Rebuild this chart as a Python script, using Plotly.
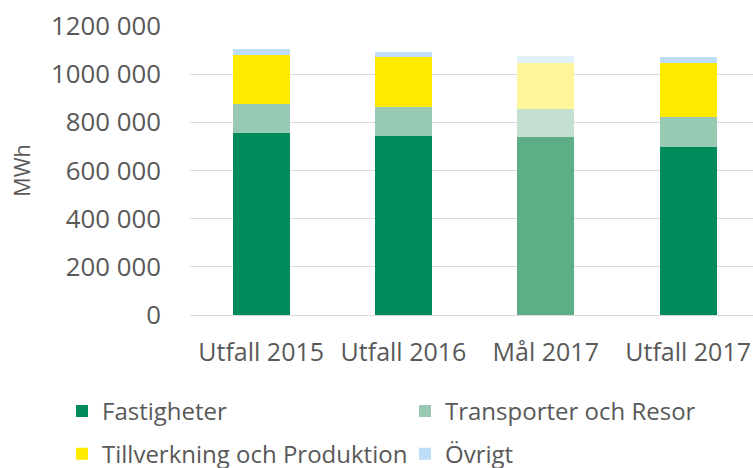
import plotly.graph_objects as go

categories = ["Utfall 2015", "Utfall 2016", "Mål 2017", "Utfall 2017"]
fastigheter = [756000, 742000, 738000, 699000]
transporter = [120000, 120000, 117000, 123000]
tillverkning = [203000, 208000, 193000, 223000]
ovrigt = [25000, 24000, 26000, 25000]

ytick_vals = [0, 200000, 400000, 600000, 800000, 1000000, 1200000]
ytick_text = ["0", "200 000", "400 000", "600 000", "800 000", "1000 000", "1200 000"]

# normal colours, and lighter tints for the target bar (Mål 2017)
col_f = ["#008C5A", "#008C5A", "#5DAE87", "#008C5A"]
col_t = ["#98CAB3", "#98CAB3", "#C2DFD0", "#98CAB3"]
col_p = ["#FFEB00", "#FFEB00", "#FFF59B", "#FFEB00"]
col_o = ["#BDDDFA", "#BDDDFA", "#E1F0FD", "#BDDDFA"]

FONT = "Open Sans"
TXT = "#595959"

W, H = 753, 468
L, R, T, B = 190, 0, 25.7, 152.5
PW, PH = W - L - R, H - T - B


def px_x(px):
    return (px - L) / PW


def px_y(py):
    return (H - B - py) / PH


fig = go.Figure()
fig.add_trace(go.Bar(x=categories, y=fastigheter, name="Fastigheter",
                     marker=dict(color=col_f, line=dict(width=0)), legend="legend"))
fig.add_trace(go.Bar(x=categories, y=transporter, name="Transporter och Resor",
                     marker=dict(color=col_t, line=dict(width=0)), legend="legend"))
fig.add_trace(go.Bar(x=categories, y=tillverkning, name="Tillverkning och Produktion",
                     marker=dict(color=col_p, line=dict(width=0)), legend="legend2"))
fig.add_trace(go.Bar(x=categories, y=ovrigt, name="Övrigt",
                     marker=dict(color=col_o, line=dict(width=0)), legend="legend2"))

leg_common = dict(orientation="h", xref="paper", yref="paper",
                  xanchor="left", yanchor="top", entrywidth=298, entrywidthmode="pixels",
                  font=dict(family=FONT, size=24, color=TXT), bgcolor="rgba(0,0,0,0)",
                  traceorder="normal", itemclick=False, itemdoubleclick=False)

fig.update_layout(
    barmode="stack",
    bargap=0.6,
    width=W, height=H,
    margin=dict(l=L, r=R, t=T, b=B, autoexpand=False),
    paper_bgcolor="white", plot_bgcolor="white",
    font=dict(family=FONT, color=TXT),
    legend=dict(x=px_x(62), y=px_y(389.5), **leg_common),
    legend2=dict(x=px_x(62), y=px_y(432.5), **leg_common),
    xaxis=dict(range=[-0.5, 3.456], showgrid=False, tickfont=dict(size=25, color=TXT),
               ticks="", showline=False, ticklabelstandoff=20, fixedrange=True),
    yaxis=dict(range=[0, 1200000], tickvals=ytick_vals, ticktext=ytick_text,
               tickfont=dict(size=25.8, color=TXT), showgrid=True,
               gridcolor="#D9D9D9", gridwidth=1.3, zeroline=True, zerolinecolor="#D9D9D9",
               zerolinewidth=1.3, ticks="", ticklabelstandoff=28, automargin=False,
               title=dict(text="MWh", font=dict(size=21.5, color=TXT), standoff=14),
               fixedrange=True),
)

fig.write_html("out.html", config={"displayModeBar": False},
               post_script="document.body.style.margin='0';")
